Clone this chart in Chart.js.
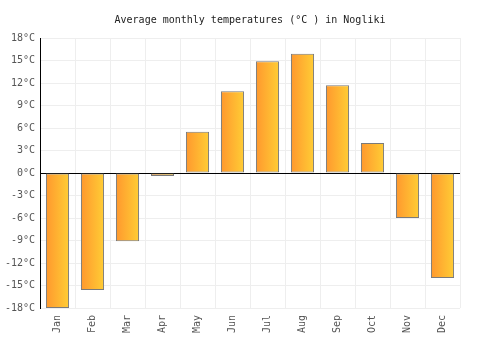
<!DOCTYPE html>
<html>
<head>
<meta charset="utf-8">
<script src="https://cdn.jsdelivr.net/npm/chart.js@4"></script>
<style>
  html, body { margin: 0; padding: 0; background: #fff; }
  #wrap { width: 500px; height: 350px; }
</style>
</head>
<body>
<div id="wrap"><canvas id="myChart" width="500" height="350"></canvas></div>
<script>
// data
const months = ["Jan", "Feb", "Mar", "Apr", "May", "Jun", "Jul", "Aug", "Sep", "Oct", "Nov", "Dec"];
const temps = [-18, -15.6, -9.1, -0.4, 5.5, 10.9, 14.9, 15.9, 11.7, 4.0, -6.0, -14.0];
const yMin = -18;
const yMax = 18;
const yStep = 3;

const FONT = "'DejaVu Sans Mono', monospace";
const BAR_PCT = 0.66;

// horizontal orange -> yellow gradient for each bar
function barFill(context) {
  const chart = context.chart;
  const x = chart.scales.x;
  if (!x || context.dataIndex === undefined) return "#ffb030";
  const cx = x.getPixelForValue(context.dataIndex);
  const half = (x.width / months.length) * BAR_PCT / 2;
  if (!isFinite(cx) || !isFinite(half) || half <= 0) return "#ffb030";
  const g = chart.ctx.createLinearGradient(cx - half, 0, cx + half, 0);
  g.addColorStop(0, "#ff982e");
  g.addColorStop(1, "#ffcd35");
  return g;
}

const ctx = document.getElementById("myChart");

new Chart(ctx, {
  type: "bar",
  data: {
    labels: months,
    datasets: [
      {
        label: "Temperature",
        data: temps,
        backgroundColor: barFill,
        borderColor: "#7a7a7a",
        borderWidth: 1,
        borderSkipped: false,
        barPercentage: BAR_PCT,
        categoryPercentage: 1,
        yAxisID: "y",
      },
    ],
  },
  options: {
    responsive: false,
    maintainAspectRatio: false,
    animation: false,
    layout: {
      padding: 0,
    },
    plugins: {
      legend: { display: false },
      tooltip: { enabled: false },
      title: {
        display: true,
        text: "Average monthly temperatures (°C ) in Nogliki",
        color: "#222",
        font: { family: FONT, size: 10, weight: "normal" },
        padding: { top: 14, bottom: 12 },
      },
    },
    scales: {
      x: {
        grid: {
          color: "#eeeeee",
          offset: true,
          drawTicks: false,
        },
        border: { display: false },
        ticks: {
          color: "#555",
          font: { family: FONT, size: 10 },
          minRotation: 90,
          maxRotation: 90,
          padding: 7,
        },
        afterFit: function (scale) {
          scale.height = 42;
        },
      },
      y: {
        min: yMin,
        max: yMax,
        grid: {
          color: function (c) {
            return c.tick && c.tick.value === 0 ? "#000000" : "#eeeeee";
          },
          drawTicks: false,
        },
        border: { color: "#000000" },
        ticks: {
          stepSize: yStep,
          color: "#555",
          font: { family: FONT, size: 10 },
          padding: 5,
          callback: function (value) {
            return value + "°C";
          },
        },
        afterFit: function (scale) {
          scale.width = 40;
        },
      },
      // empty right-hand spacer so the title stays centred on the canvas
      yRight: {
        type: "linear",
        position: "right",
        min: yMin,
        max: yMax,
        grid: { display: false },
        border: { display: false },
        ticks: { display: false },
        afterFit: function (scale) {
          scale.width = 40;
        },
      },
    },
  },
});
</script>
</body>
</html>
